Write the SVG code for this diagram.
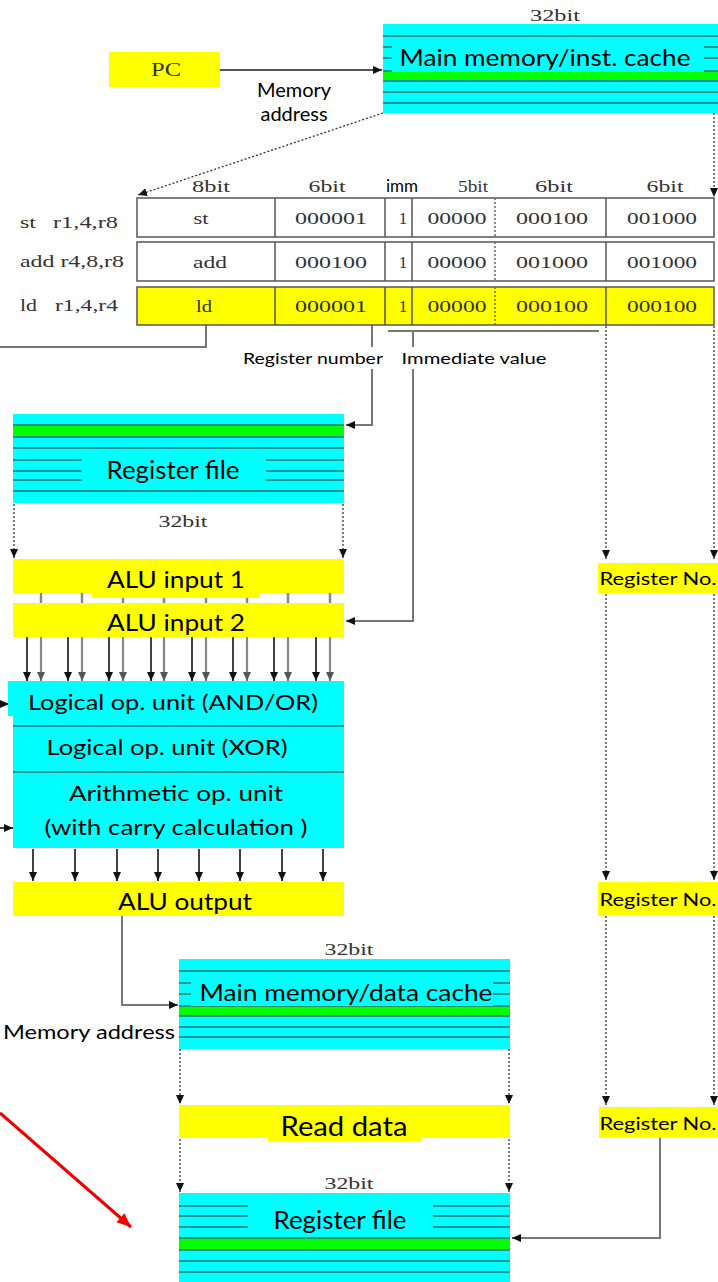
<svg xmlns="http://www.w3.org/2000/svg" width="718" height="1282" viewBox="0 0 718 1282">
<defs>
<marker id="ah" markerUnits="userSpaceOnUse" markerWidth="10" markerHeight="10" refX="9" refY="4" orient="auto"><path d="M0,0 L9,4 L0,8 z" fill="#111"/></marker>
<marker id="ahg" markerUnits="userSpaceOnUse" markerWidth="10" markerHeight="10" refX="9" refY="4" orient="auto"><path d="M0,0 L9,4 L0,8 z" fill="#555"/></marker>
<marker id="ahr" markerUnits="userSpaceOnUse" markerWidth="16" markerHeight="16" refX="14" refY="6" orient="auto"><path d="M0,0 L14,6 L0,12 z" fill="#e00"/></marker>
</defs>
<style>
.cy{fill:#00ffff}
.gr{fill:#00ff00}
.ye{fill:#ffff00}
.ln{stroke:#2f6f6f;stroke-width:1.6}
.sans{font-family:Lato,"Open Sans","Liberation Sans",sans-serif;fill:#000}
.ser{font-family:"Liberation Serif",serif;fill:#333}
.cell{font-family:"Liberation Serif",serif;fill:#333;font-size:17px;text-anchor:middle}
.dot{stroke:#333;stroke-width:1.3;stroke-dasharray:2,2;fill:none}
.sol{stroke:#777;stroke-width:2;fill:none}
.blk{stroke:#111;stroke-width:1.6;fill:none}
.tb{stroke:#555;stroke-width:1.5}
</style>

<g id="connectors">
<line class="sol" x1="220" y1="70" x2="382" y2="70" marker-end="url(#ah)" style="stroke:#555"/>
<line class="dot" x1="383" y1="113" x2="138" y2="195" marker-end="url(#ah)"/>
<line class="dot" x1="714" y1="113" x2="714" y2="197" marker-end="url(#ah)"/>
<polyline class="sol" points="206,325 206,347 0,347"/>
<polyline class="sol" points="372,325 372,425 346,425" marker-end="url(#ah)"/>
<line class="sol" x1="388" y1="331" x2="599" y2="331"/>
<polyline class="sol" points="413,331 413,621 346,621" marker-end="url(#ah)"/>
<line class="dot" x1="606" y1="326" x2="606" y2="559" marker-end="url(#ah)"/>
<line class="dot" x1="714" y1="326" x2="714" y2="559" marker-end="url(#ah)"/>
<line class="dot" x1="606" y1="594" x2="606" y2="880" marker-end="url(#ah)"/>
<line class="dot" x1="714" y1="594" x2="714" y2="880" marker-end="url(#ah)"/>
<line class="dot" x1="606" y1="916" x2="606" y2="1105" marker-end="url(#ah)"/>
<line class="dot" x1="714" y1="916" x2="714" y2="1105" marker-end="url(#ah)"/>
<line class="dot" x1="14" y1="504" x2="14" y2="558" marker-end="url(#ah)"/>
<line class="dot" x1="343" y1="504" x2="343" y2="558" marker-end="url(#ah)"/>
<g stroke="#888" stroke-width="2.5">
<line x1="41" y1="593" x2="41" y2="603"/><line x1="82" y1="593" x2="82" y2="603"/><line x1="123" y1="593" x2="123" y2="603"/><line x1="164" y1="593" x2="164" y2="603"/><line x1="206" y1="593" x2="206" y2="603"/><line x1="247" y1="593" x2="247" y2="603"/><line x1="288" y1="593" x2="288" y2="603"/><line x1="330" y1="593" x2="330" y2="603"/>
</g>
<g stroke="#888" stroke-width="2.2" marker-end="url(#ahg)">
<line x1="41" y1="637" x2="41" y2="681"/><line x1="82" y1="637" x2="82" y2="681"/><line x1="123" y1="637" x2="123" y2="681"/><line x1="164" y1="637" x2="164" y2="681"/><line x1="206" y1="637" x2="206" y2="681"/><line x1="247" y1="637" x2="247" y2="681"/><line x1="288" y1="637" x2="288" y2="681"/><line x1="330" y1="637" x2="330" y2="681"/>
</g>
<g class="blk" marker-end="url(#ah)">
<line x1="27" y1="637" x2="27" y2="681"/><line x1="68" y1="637" x2="68" y2="681"/><line x1="109" y1="637" x2="109" y2="681"/><line x1="151" y1="637" x2="151" y2="681"/><line x1="192" y1="637" x2="192" y2="681"/><line x1="233" y1="637" x2="233" y2="681"/><line x1="274" y1="637" x2="274" y2="681"/><line x1="316" y1="637" x2="316" y2="681"/>
<line x1="33" y1="849" x2="33" y2="881"/><line x1="75" y1="849" x2="75" y2="881"/><line x1="117" y1="849" x2="117" y2="881"/><line x1="158" y1="849" x2="158" y2="881"/><line x1="199" y1="849" x2="199" y2="881"/><line x1="240" y1="849" x2="240" y2="881"/><line x1="282" y1="849" x2="282" y2="881"/><line x1="323" y1="849" x2="323" y2="881"/>
<line x1="0" y1="704" x2="9" y2="704"/>
<line x1="0" y1="828" x2="13" y2="828"/>
</g>
<polyline class="sol" points="122,916 122,1005 178,1005" marker-end="url(#ah)"/>
<line class="dot" x1="180" y1="1049" x2="180" y2="1104" marker-end="url(#ah)"/>
<line class="dot" x1="509" y1="1049" x2="509" y2="1104" marker-end="url(#ah)"/>
<line class="dot" x1="180" y1="1139" x2="180" y2="1192" marker-end="url(#ah)"/>
<line class="dot" x1="509" y1="1139" x2="509" y2="1192" marker-end="url(#ah)"/>
<polyline class="sol" points="660,1138 660,1238 512,1238" marker-end="url(#ah)"/>
<line x1="0" y1="1113" x2="131" y2="1227" stroke="#e00" stroke-width="3" marker-end="url(#ahr)"/>
</g>

<g id="pc">
<rect x="109" y="52" width="111" height="35" class="ye"/>
<text x="166" y="76" class="ser" font-size="18" text-anchor="middle" textLength="30" lengthAdjust="spacingAndGlyphs">PC</text>
</g>
<text class="sans" font-size="20" text-anchor="middle"><tspan x="294" y="97">Memory</tspan><tspan x="294" y="121">address</tspan></text>

<g id="inst-mem">
<text x="555" y="21" class="ser" font-size="17" text-anchor="middle" textLength="50" lengthAdjust="spacingAndGlyphs">32bit</text>
<rect x="383" y="24" width="335" height="89" class="cy"/>
<line class="ln" x1="383" y1="36" x2="718" y2="36"/>
<line class="ln" x1="383" y1="47" x2="718" y2="47"/>
<line class="ln" x1="383" y1="58" x2="718" y2="58"/>
<rect x="383" y="71" width="335" height="9" class="gr"/>
<line class="ln" x1="383" y1="71" x2="718" y2="71"/>
<line class="ln" x1="383" y1="81" x2="718" y2="81"/>
<line class="ln" x1="383" y1="92" x2="718" y2="92"/>
<line class="ln" x1="383" y1="103" x2="718" y2="103"/>
<rect x="392" y="40" width="312" height="32" class="cy"/>
<text x="545" y="66" class="sans" font-size="24" text-anchor="middle" textLength="291" lengthAdjust="spacingAndGlyphs">Main memory/inst. cache</text>
</g>

<g id="inst-table">
<g class="ser" font-size="17" text-anchor="middle">
<text x="211" y="192" textLength="38" lengthAdjust="spacingAndGlyphs">8bit</text>
<text x="327" y="192" textLength="37" lengthAdjust="spacingAndGlyphs">6bit</text>
<text x="473" y="192" textLength="30" lengthAdjust="spacingAndGlyphs">5bit</text>
<text x="554" y="192" textLength="38" lengthAdjust="spacingAndGlyphs">6bit</text>
<text x="665" y="192" textLength="37" lengthAdjust="spacingAndGlyphs">6bit</text>
</g>
<text x="402" y="192" class="sans" font-size="17" text-anchor="middle">imm</text>
<g class="ser" font-size="17">
<text x="20" y="228" textLength="16" lengthAdjust="spacingAndGlyphs">st</text>
<text x="53" y="228" textLength="65" lengthAdjust="spacingAndGlyphs">r1,4,r8</text>
<text x="20" y="267" textLength="104" lengthAdjust="spacingAndGlyphs">add r4,8,r8</text>
<text x="20" y="311" textLength="17" lengthAdjust="spacingAndGlyphs">ld</text>
<text x="55" y="311" textLength="63" lengthAdjust="spacingAndGlyphs">r1,4,r4</text>
</g>
<rect x="137" y="198" width="577" height="39" fill="#fff" class="tb"/>
<rect x="137" y="242" width="577" height="39" fill="#fff" class="tb"/>
<rect x="137" y="287" width="577" height="38" class="ye tb"/>
<g class="tb">
<line x1="275" y1="198" x2="275" y2="237"/><line x1="385" y1="198" x2="385" y2="237"/><line x1="412" y1="198" x2="412" y2="237"/><line x1="606" y1="198" x2="606" y2="237"/>
<line x1="275" y1="242" x2="275" y2="281"/><line x1="385" y1="242" x2="385" y2="281"/><line x1="412" y1="242" x2="412" y2="281"/><line x1="606" y1="242" x2="606" y2="281"/>
<line x1="275" y1="287" x2="275" y2="325"/><line x1="385" y1="287" x2="385" y2="325"/><line x1="412" y1="287" x2="412" y2="325"/><line x1="606" y1="287" x2="606" y2="325"/>
</g>
<g class="dot" style="stroke:#666;stroke-width:1.5">
<line x1="495" y1="198" x2="495" y2="237"/><line x1="495" y1="242" x2="495" y2="281"/><line x1="495" y1="287" x2="495" y2="325"/>
</g>
<g class="cell">
<text x="201" y="224" textLength="15" lengthAdjust="spacingAndGlyphs">st</text>
<text x="331" y="224" textLength="72" lengthAdjust="spacingAndGlyphs">000001</text>
<text x="403" y="224">1</text>
<text x="457" y="224" textLength="59" lengthAdjust="spacingAndGlyphs">00000</text>
<text x="552" y="224" textLength="72" lengthAdjust="spacingAndGlyphs">000100</text>
<text x="662" y="224" textLength="70" lengthAdjust="spacingAndGlyphs">001000</text>
<text x="210" y="268" textLength="34" lengthAdjust="spacingAndGlyphs">add</text>
<text x="331" y="268" textLength="72" lengthAdjust="spacingAndGlyphs">000100</text>
<text x="403" y="268">1</text>
<text x="457" y="268" textLength="59" lengthAdjust="spacingAndGlyphs">00000</text>
<text x="552" y="268" textLength="72" lengthAdjust="spacingAndGlyphs">001000</text>
<text x="662" y="268" textLength="70" lengthAdjust="spacingAndGlyphs">001000</text>
<text x="204" y="312" textLength="16" lengthAdjust="spacingAndGlyphs">ld</text>
<text x="331" y="312" textLength="72" lengthAdjust="spacingAndGlyphs">000001</text>
<text x="403" y="312">1</text>
<text x="457" y="312" textLength="59" lengthAdjust="spacingAndGlyphs">00000</text>
<text x="552" y="312" textLength="72" lengthAdjust="spacingAndGlyphs">000100</text>
<text x="662" y="312" textLength="70" lengthAdjust="spacingAndGlyphs">000100</text>
</g>
</g>

<g id="labels-fields">
<rect x="241" y="347" width="144" height="22" fill="#fff"/>
<text x="313" y="364" class="sans" font-size="16" text-anchor="middle" textLength="140" lengthAdjust="spacingAndGlyphs">Register number</text>
<rect x="400" y="347" width="148" height="22" fill="#fff"/>
<text x="474" y="364" class="sans" font-size="16" text-anchor="middle" textLength="145" lengthAdjust="spacingAndGlyphs">Immediate value</text>
</g>

<g id="regfile-top">
<rect x="13" y="414" width="331" height="89" class="cy"/>
<rect x="13" y="425" width="331" height="11" class="gr"/>
<line class="ln" x1="13" y1="425" x2="344" y2="425"/>
<line class="ln" x1="13" y1="437" x2="344" y2="437"/>
<line class="ln" x1="13" y1="448" x2="344" y2="448"/>
<line class="ln" x1="13" y1="460" x2="82" y2="460"/><line class="ln" x1="266" y1="460" x2="344" y2="460"/>
<line class="ln" x1="13" y1="471" x2="82" y2="471"/><line class="ln" x1="266" y1="471" x2="344" y2="471"/>
<line class="ln" x1="13" y1="480" x2="82" y2="480"/><line class="ln" x1="266" y1="480" x2="344" y2="480"/>
<line class="ln" x1="13" y1="491" x2="344" y2="491"/>
<text x="173" y="479" class="sans" font-size="25" text-anchor="middle" textLength="133" lengthAdjust="spacingAndGlyphs">Register file</text>
<text x="183" y="527" class="ser" font-size="17" text-anchor="middle" textLength="49" lengthAdjust="spacingAndGlyphs">32bit</text>
</g>

<g id="alu-in1">
<rect x="13" y="559" width="331" height="34" class="ye"/>
<rect x="92" y="575" width="168" height="23" class="ye"/>
<text x="176" y="588" class="sans" font-size="23" text-anchor="middle" textLength="138" lengthAdjust="spacingAndGlyphs">ALU input 1</text>
</g>
<g id="alu-in2">
<rect x="13" y="603" width="331" height="34" class="ye"/>
<text x="176" y="631" class="sans" font-size="23" text-anchor="middle" textLength="138" lengthAdjust="spacingAndGlyphs">ALU input 2</text>
</g>

<g id="alu">
<rect x="13" y="681" width="331" height="167" class="cy"/>
<rect x="8" y="681" width="10" height="35" class="cy"/>
<line class="ln" x1="13" y1="726" x2="344" y2="726"/>
<line class="ln" x1="13" y1="772" x2="344" y2="772"/>
<text x="173" y="710" class="sans" font-size="22" text-anchor="middle" textLength="290" lengthAdjust="spacingAndGlyphs">Logical op. unit (AND/OR)</text>
<text x="167" y="755" class="sans" font-size="22" text-anchor="middle" textLength="241" lengthAdjust="spacingAndGlyphs">Logical op. unit (XOR)</text>
<text x="176" y="801" class="sans" font-size="22" text-anchor="middle" textLength="214" lengthAdjust="spacingAndGlyphs">Arithmetic op. unit</text>
<text x="176" y="835" class="sans" font-size="22" text-anchor="middle" textLength="263" lengthAdjust="spacingAndGlyphs">(with carry calculation )</text>
</g>

<g id="alu-out">
<rect x="13" y="882" width="331" height="34" class="ye"/>
<text x="185" y="910" class="sans" font-size="23" text-anchor="middle" textLength="134" lengthAdjust="spacingAndGlyphs">ALU output</text>
</g>

<g id="regno-1">
<rect x="598" y="563" width="120" height="30" class="ye"/>
<text x="658" y="585" class="sans" font-size="18" text-anchor="middle" textLength="117" lengthAdjust="spacingAndGlyphs">Register No.</text>
</g>
<g id="regno-2">
<rect x="598" y="882" width="120" height="33" class="ye"/>
<text x="658" y="906" class="sans" font-size="18" text-anchor="middle" textLength="117" lengthAdjust="spacingAndGlyphs">Register No.</text>
</g>
<g id="regno-3">
<rect x="599" y="1107" width="119" height="31" class="ye"/>
<text x="658" y="1130" class="sans" font-size="18" text-anchor="middle" textLength="117" lengthAdjust="spacingAndGlyphs">Register No.</text>
</g>

<g id="data-mem">
<text x="349" y="955" class="ser" font-size="17" text-anchor="middle" textLength="49" lengthAdjust="spacingAndGlyphs">32bit</text>
<rect x="179" y="959" width="331" height="90" class="cy"/>
<line class="ln" x1="179" y1="971" x2="510" y2="971"/>
<line class="ln" x1="179" y1="983" x2="510" y2="983"/>
<line class="ln" x1="179" y1="994" x2="510" y2="994"/>
<rect x="179" y="1006" width="331" height="10" class="gr"/>
<line class="ln" x1="179" y1="1006" x2="510" y2="1006"/>
<line class="ln" x1="179" y1="1016" x2="510" y2="1016"/>
<line class="ln" x1="179" y1="1027" x2="510" y2="1027"/>
<line class="ln" x1="179" y1="1037" x2="510" y2="1037"/>
<rect x="191" y="977" width="302" height="29" class="cy"/>
<text x="346" y="1001" class="sans" font-size="23" text-anchor="middle" textLength="293" lengthAdjust="spacingAndGlyphs">Main memory/data cache</text>
<text x="175" y="1039" class="sans" font-size="20" text-anchor="end" textLength="172" lengthAdjust="spacingAndGlyphs">Memory address</text>
</g>

<g id="read-data">
<rect x="179" y="1105" width="331" height="33" class="ye"/>
<rect x="268" y="1120" width="153" height="21" class="ye"/>
<text x="344" y="1136" class="sans" font-size="27" text-anchor="middle" textLength="127" lengthAdjust="spacingAndGlyphs">Read data</text>
</g>

<g id="regfile-bottom">
<text x="349" y="1189" class="ser" font-size="17" text-anchor="middle" textLength="49" lengthAdjust="spacingAndGlyphs">32bit</text>
<rect x="179" y="1193" width="331" height="89" class="cy"/>
<line class="ln" x1="179" y1="1206" x2="248" y2="1206"/><line class="ln" x1="433" y1="1206" x2="510" y2="1206"/>
<line class="ln" x1="179" y1="1216" x2="248" y2="1216"/><line class="ln" x1="433" y1="1216" x2="510" y2="1216"/>
<line class="ln" x1="179" y1="1227" x2="248" y2="1227"/><line class="ln" x1="433" y1="1227" x2="510" y2="1227"/>
<rect x="179" y="1238" width="331" height="12" class="gr"/>
<line class="ln" x1="179" y1="1238" x2="510" y2="1238"/>
<line class="ln" x1="179" y1="1250" x2="510" y2="1250"/>
<line class="ln" x1="179" y1="1261" x2="510" y2="1261"/>
<line class="ln" x1="179" y1="1272" x2="510" y2="1272"/>
<text x="340" y="1229" class="sans" font-size="25" text-anchor="middle" textLength="133" lengthAdjust="spacingAndGlyphs">Register file</text>
</g>
</svg>
